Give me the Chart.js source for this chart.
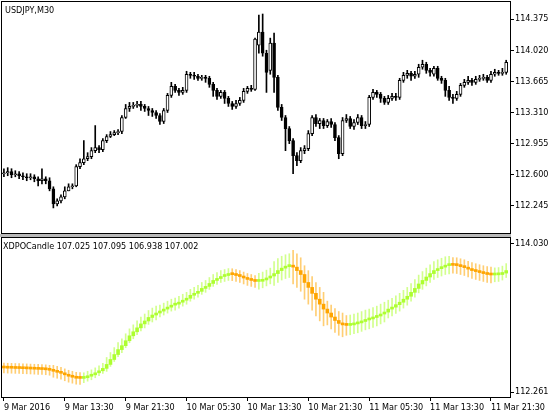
<!DOCTYPE html>
<html>
<head>
<meta charset="utf-8">
<script src="https://cdn.jsdelivr.net/npm/chart.js@4.4.1/dist/chart.umd.min.js"></script>
<style>
  body { margin: 0; background: #fff; }
  #wrap { position: relative; width: 560px; height: 416px; overflow: hidden; }
  #top { position: absolute; left: 0; top: 0; }
  #bottom { position: absolute; left: 0; top: 235px; }
  #split { position: absolute; left: 0; top: 234px; width: 511px; height: 3px; background: #b8b8b8; }
</style>
</head>
<body>
<div id="wrap">
  <canvas id="top" width="560" height="235"></canvas>
  <div id="split"></div>
  <canvas id="bottom" width="560" height="181"></canvas>
</div>
<script>
// USDJPY M30, 9 Mar 05:30 .. 11 Mar 23:30
const open = [112.612,112.623,112.635,112.600,112.612,112.589,112.577,112.566,112.577,112.555,
  112.532,112.555,112.532,112.440,112.268,112.303,112.348,112.417,112.463,112.474,
  112.692,112.738,112.783,112.806,112.875,112.910,112.887,112.990,113.036,113.058,
  113.081,113.093,113.253,113.356,113.379,113.391,113.402,113.379,113.356,113.333,
  113.310,113.276,113.207,113.333,113.505,113.608,113.562,113.539,113.562,113.746,
  113.734,113.723,113.700,113.711,113.700,113.631,113.562,113.494,113.539,113.471,
  113.413,113.379,113.413,113.448,113.551,113.585,113.574,114.078,114.227,113.986,
  113.791,114.101,113.711,113.368,113.253,113.127,112.990,112.818,112.761,112.875,
  112.898,113.070,113.253,113.184,113.219,113.161,113.207,113.173,113.024,112.841,
  113.219,113.242,113.150,113.196,113.253,113.161,113.173,113.482,113.539,113.517,
  113.471,113.425,113.471,113.494,113.482,113.677,113.734,113.757,113.723,113.746,
  113.826,113.860,113.791,113.746,113.814,113.700,113.677,113.562,113.482,113.471,
  113.517,113.620,113.654,113.677,113.654,113.688,113.700,113.711,113.677,113.746,
  113.768,113.757,113.768];
const high = [112.669,112.681,112.669,112.646,112.635,112.623,112.612,112.612,112.600,112.577,
  112.669,112.577,112.566,112.463,112.326,112.371,112.463,112.497,112.497,112.715,
  112.783,112.990,112.852,112.910,113.161,112.933,113.013,113.058,113.093,113.104,
  113.116,113.276,113.402,113.425,113.425,113.436,113.436,113.402,113.379,113.356,
  113.333,113.299,113.356,113.528,113.654,113.631,113.585,113.597,113.780,113.768,
  113.768,113.746,113.734,113.734,113.723,113.654,113.585,113.562,113.562,113.494,
  113.436,113.448,113.482,113.585,113.608,113.620,114.158,114.421,114.433,114.020,
  114.158,114.215,113.734,113.402,113.276,113.150,113.013,112.852,112.910,112.933,
  113.104,113.276,113.287,113.242,113.242,113.230,113.242,113.196,113.047,113.253,
  113.287,113.265,113.230,113.287,113.276,113.207,113.505,113.574,113.562,113.539,
  113.494,113.505,113.528,113.528,113.700,113.768,113.791,113.780,113.780,113.860,
  113.906,113.883,113.814,113.837,113.837,113.723,113.700,113.608,113.517,113.551,
  113.642,113.688,113.723,113.700,113.723,113.734,113.746,113.734,113.780,113.803,
  113.791,113.814,113.906];
const low = [112.577,112.589,112.566,112.577,112.555,112.543,112.532,112.543,112.520,112.474,
  112.497,112.497,112.417,112.222,112.245,112.280,112.326,112.417,112.440,112.463,
  112.669,112.715,112.761,112.783,112.852,112.852,112.864,112.967,113.024,113.047,
  113.058,113.070,113.242,113.322,113.356,113.368,113.333,113.322,113.276,113.265,
  113.242,113.173,113.184,113.310,113.482,113.539,113.505,113.517,113.539,113.700,
  113.688,113.677,113.677,113.654,113.597,113.494,113.459,113.471,113.413,113.379,
  113.345,113.356,113.391,113.425,113.528,113.551,113.562,113.986,113.952,113.539,
  113.746,113.539,113.333,113.219,112.875,112.955,112.612,112.703,112.738,112.841,
  112.875,113.047,113.150,113.127,113.127,113.139,113.139,112.990,112.783,112.818,
  113.196,113.127,113.116,113.173,113.127,113.127,113.150,113.459,113.482,113.425,
  113.402,113.402,113.448,113.448,113.459,113.654,113.700,113.677,113.700,113.711,
  113.803,113.757,113.723,113.723,113.677,113.642,113.494,113.448,113.413,113.448,
  113.494,113.597,113.631,113.620,113.631,113.665,113.677,113.654,113.654,113.723,
  113.734,113.734,113.746];
const close = [112.623,112.635,112.600,112.612,112.589,112.577,112.566,112.577,112.555,112.532,
  112.555,112.532,112.440,112.268,112.303,112.348,112.417,112.463,112.474,112.692,
  112.738,112.783,112.806,112.875,112.910,112.887,112.990,113.036,113.058,113.081,
  113.093,113.253,113.356,113.379,113.391,113.402,113.379,113.356,113.333,113.310,
  113.276,113.207,113.333,113.505,113.608,113.562,113.539,113.562,113.746,113.734,
  113.723,113.700,113.711,113.700,113.631,113.562,113.494,113.539,113.471,113.413,
  113.379,113.413,113.448,113.551,113.585,113.574,114.146,114.227,113.986,113.768,
  114.101,113.711,113.368,113.253,113.127,112.990,112.818,112.761,112.875,112.898,
  113.070,113.253,113.184,113.219,113.161,113.207,113.173,113.024,112.841,113.219,
  113.242,113.150,113.196,113.253,113.161,113.173,113.482,113.539,113.517,113.471,
  113.425,113.471,113.494,113.482,113.677,113.734,113.757,113.723,113.746,113.826,
  113.860,113.791,113.768,113.814,113.700,113.677,113.562,113.482,113.471,113.517,
  113.620,113.654,113.677,113.654,113.688,113.700,113.711,113.677,113.746,113.768,
  113.757,113.768,113.883];

// XDPOCandle indicator
const dpoOpen = [112.550,112.548,112.546,112.545,112.543,112.542,112.540,112.538,112.536,112.534,
  112.532,112.530,112.527,112.521,112.509,112.497,112.485,112.467,112.450,112.438,
  112.426,112.424,112.432,112.450,112.467,112.491,112.515,112.544,112.591,112.650,
  112.709,112.768,112.815,112.874,112.933,112.981,113.028,113.075,113.110,113.152,
  113.181,113.205,113.228,113.252,113.275,113.299,113.311,113.334,113.358,113.381,
  113.417,113.440,113.464,113.499,113.523,113.558,113.594,113.617,113.641,113.653,
  113.665,113.663,113.653,113.641,113.623,113.606,113.594,113.582,113.584,113.600,
  113.623,113.647,113.676,113.712,113.741,113.759,113.771,113.753,113.712,113.665,
  113.570,113.511,113.440,113.370,113.311,113.252,113.205,113.157,113.116,113.081,
  113.063,113.057,113.063,113.075,113.087,113.104,113.122,113.134,113.152,113.169,
  113.193,113.216,113.252,113.275,113.305,113.334,113.370,113.405,113.452,113.499,
  113.552,113.594,113.635,113.676,113.712,113.735,113.753,113.771,113.777,113.774,
  113.771,113.759,113.747,113.729,113.712,113.700,113.688,113.676,113.665,113.659,
  113.661,113.665,113.682];
const dpoClose = [112.548,112.546,112.545,112.543,112.542,112.540,112.538,112.536,112.534,112.532,
  112.530,112.527,112.521,112.509,112.497,112.485,112.467,112.450,112.438,112.426,
  112.424,112.432,112.450,112.467,112.491,112.515,112.544,112.591,112.650,112.709,
  112.768,112.815,112.874,112.933,112.981,113.028,113.075,113.110,113.152,113.181,
  113.205,113.228,113.252,113.275,113.299,113.311,113.334,113.358,113.381,113.417,
  113.440,113.464,113.499,113.523,113.558,113.594,113.617,113.641,113.653,113.665,
  113.663,113.653,113.641,113.623,113.606,113.594,113.582,113.584,113.600,113.623,
  113.647,113.676,113.712,113.741,113.759,113.771,113.753,113.712,113.665,113.570,
  113.511,113.440,113.370,113.311,113.252,113.205,113.157,113.116,113.081,113.063,
  113.057,113.063,113.075,113.087,113.104,113.122,113.134,113.152,113.169,113.193,
  113.216,113.252,113.275,113.305,113.334,113.370,113.405,113.452,113.499,113.552,
  113.594,113.635,113.676,113.712,113.735,113.753,113.771,113.777,113.774,113.771,
  113.759,113.747,113.729,113.712,113.700,113.688,113.676,113.665,113.659,113.661,
  113.665,113.682,113.712];
// half length of the indicator wick
const dpoSpread = [0.059,0.059,0.059,0.059,0.059,0.059,0.059,0.059,0.059,0.059,
  0.059,0.059,0.059,0.071,0.071,0.071,0.071,0.071,0.071,0.071,
  0.071,0.059,0.059,0.059,0.059,0.059,0.059,0.083,0.083,0.083,
  0.083,0.083,0.083,0.083,0.083,0.083,0.083,0.083,0.083,0.083,
  0.083,0.071,0.071,0.071,0.071,0.071,0.071,0.071,0.071,0.071,
  0.071,0.071,0.071,0.071,0.071,0.071,0.071,0.071,0.071,0.071,
  0.071,0.071,0.071,0.071,0.071,0.071,0.071,0.094,0.094,0.094,
  0.094,0.142,0.142,0.142,0.142,0.142,0.200,0.200,0.200,0.200,
  0.200,0.200,0.200,0.200,0.200,0.142,0.142,0.142,0.142,0.142,
  0.118,0.118,0.118,0.118,0.118,0.118,0.118,0.118,0.118,0.118,
  0.118,0.106,0.106,0.106,0.106,0.106,0.106,0.106,0.106,0.106,
  0.106,0.106,0.106,0.106,0.106,0.106,0.106,0.106,0.094,0.094,
  0.094,0.094,0.094,0.094,0.094,0.094,0.094,0.094,0.094,0.083,
  0.083,0.083,0.083];

const priceTicks = [112.245, 112.600, 112.955, 113.310, 113.665, 114.020, 114.375];
const dpoTicks = [112.261, 114.030];
const tickBars = [0, 16, 32, 48, 64, 80, 96, 112, 128];
const tickLabels = ['9 Mar 2016', '9 Mar 13:30', '9 Mar 21:30', '10 Mar 05:30', '10 Mar 13:30',
  '10 Mar 21:30', '11 Mar 05:30', '11 Mar 13:30', '11 Mar 21:30'];

const FONT = '"DejaVu Sans Condensed", "Liberation Sans", sans-serif';
const UP = '#adff2f', DOWN = '#ffa500';
const UP_WICK = 'rgba(173,255,47,0.55)', DOWN_WICK = 'rgba(255,165,0,0.55)';

// frame round the plot area plus the little caption in its corner
const framePlugin = {
  id: 'frame',
  afterDraw(chart, args, opts) {
    const { ctx, chartArea: a } = chart;
    ctx.save();
    ctx.strokeStyle = '#000';
    ctx.lineWidth = 1;
    ctx.strokeRect(a.left - 0.5, a.top - 0.5, a.right - a.left + 1, a.bottom - a.top + 1);
    ctx.font = '9px ' + FONT;
    ctx.fillStyle = '#000';
    ctx.textBaseline = 'top';
    ctx.fillText(opts.text, a.left + opts.dx, a.top + opts.dy);
    ctx.restore();
  }
};

function yAxis(min, max, ticks) {
  return {
    position: 'right',
    min: min,
    max: max,
    afterBuildTicks: s => { s.ticks = ticks.map(v => ({ value: v })); },
    afterFit: s => { s.width = 50; s.paddingTop = 0; s.paddingBottom = 0; },
    grid: { drawOnChartArea: false, tickLength: 4, color: '#000' },
    border: { color: '#000' },
    ticks: { color: '#000', padding: 1, font: { family: FONT, size: 9 }, callback: v => v.toFixed(3) }
  };
}

const bars = close.map((c, i) => i);

new Chart(document.getElementById('top'), {
  type: 'bar',
  data: {
    datasets: [
      {
        data: bars.map(i => ({ x: i, y: [low[i], high[i]] })),
        backgroundColor: '#000',
        barThickness: 1,
        grouped: false,
        order: 2
      },
      {
        data: bars.map(i => ({ x: i, y: [open[i], close[i]] })),
        backgroundColor: bars.map(i => close[i] >= open[i] ? '#fff' : '#000'),
        borderColor: '#000',
        borderWidth: 1,
        borderSkipped: false,
        barThickness: 3,
        minBarLength: 1,
        grouped: false,
        order: 1
      }
    ]
  },
  options: {
    responsive: false,
    animation: false,
    layout: { padding: { left: 2, top: 2, right: 0, bottom: 2 } },
    plugins: {
      legend: { display: false },
      tooltip: { enabled: false },
      frame: { text: 'USDJPY,M30', dx: 3, dy: 4 }
    },
    scales: {
      x: { type: 'linear', min: -0.5, max: 133, offset: false, display: false },
      y: yAxis(111.936, 114.570, priceTicks)
    }
  },
  plugins: [framePlugin]
});

new Chart(document.getElementById('bottom'), {
  type: 'bar',
  data: {
    datasets: [
      {
        data: bars.map(i => ({ x: i, y: [dpoClose[i] - dpoSpread[i], dpoClose[i] + dpoSpread[i]] })),
        backgroundColor: bars.map(i => dpoClose[i] >= dpoOpen[i] ? UP_WICK : DOWN_WICK),
        barThickness: 1,
        grouped: false,
        order: 2
      },
      {
        data: bars.map(i => ({ x: i, y: [dpoOpen[i], dpoClose[i]] })),
        backgroundColor: bars.map(i => dpoClose[i] >= dpoOpen[i] ? UP : DOWN),
        barThickness: 3,
        minBarLength: 2,
        grouped: false,
        order: 1
      }
    ]
  },
  options: {
    responsive: false,
    animation: false,
    layout: { padding: { left: 2, top: 3, right: 0, bottom: 0 } },
    plugins: {
      legend: { display: false },
      tooltip: { enabled: false },
      frame: { text: 'XDPOCandle 107.025 107.095 106.938 107.002', dx: 1, dy: 4 }
    },
    scales: {
      x: {
        type: 'linear',
        min: -0.5,
        max: 133,
        offset: false,
        afterBuildTicks: s => { s.ticks = tickBars.map(v => ({ value: v })); },
        afterFit: s => { s.height = 19; s.paddingLeft = 0; s.paddingRight = 0; },
        grid: { drawOnChartArea: false, offset: false, tickLength: 4, color: '#000' },
        border: { color: '#000' },
        ticks: {
          color: '#000',
          align: 'start',
          padding: 1,
          maxRotation: 0,
          autoSkip: false,
          font: { family: FONT, size: 9 },
          callback: v => tickLabels[tickBars.indexOf(v)]
        }
      },
      y: yAxis(112.202, 114.101, dpoTicks)
    }
  },
  plugins: [framePlugin]
});
</script>
</body>
</html>
